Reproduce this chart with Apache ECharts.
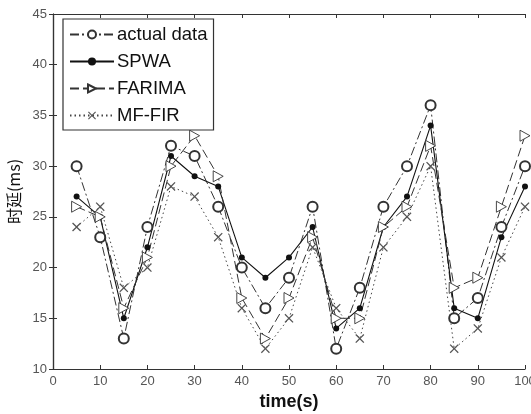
<!DOCTYPE html>
<html><head><meta charset="utf-8">
<script src="https://cdn.jsdelivr.net/npm/echarts@6/dist/echarts.min.js"></script>
<style>html,body{margin:0;padding:0;background:#fff}#c{width:531px;height:414px}</style>
</head><body><div id="c"></div>
<script>
const times = [5,10,15,20,25,30,35,40,45,50,55,60,65,70,75,80,85,90,95,100];
const actualData = [30,23,13,24,32,31,26,20,16,19,26,12,18,26,30,36,15,17,24,30];
const spwa = [27,25,15,22,31,29,28,21,19,21,24,14,16,24,27,34,16,15,23,28];
const farima = [26,25,16,21,30,33,29,17,13,17,23,15,15,24,26,32,18,19,26,33];
const mffir = [24,26,18,20,28,27,23,16,12,15,22,16,13,22,25,30,12,14,21,26];
const xTicks = [0,10,20,30,40,50,60,70,80,90,100];
const yTicks = [10,15,20,25,30,35,40,45];

const pair = a => times.map((t,i)=>[t,a[i]]);
const X = 'path://M0,1L1,0L5,4L9,0L10,1L6,5L10,9L9,10L5,6L1,10L0,9L4,5Z';
const chart = echarts.init(document.getElementById('c'));
const axisCommon = {
  axisLine:{lineStyle:{color:'#333',width:1.2}},
  axisTick:{inside:true,length:4,lineStyle:{color:'#333'}},
  splitLine:{show:false}
};
const txt = {color:'#555',fontFamily:'Liberation Sans, Arial',fontSize:13};
chart.setOption({
  animation:false,
  backgroundColor:'#fff',
  grid:{left:53,right:6,top:14,bottom:45,outerBoundsMode:'none',containLabel:false},
  legend:{
    left:63, top:19, orient:'vertical', itemGap:8, itemWidth:44, itemHeight:10,
    padding:[6,6,5,6], borderColor:'#333', borderWidth:1.2, backgroundColor:'#fff',
    textStyle:{fontFamily:'Liberation Sans, Arial',fontSize:18.5,color:'#111',padding:[0,0,0,-2]},
    data:['actual data','SPWA','FARIMA','MF-FIR']
  },
  xAxis:[
    Object.assign({type:'value',min:0,max:100,interval:10,position:'bottom',
      name:'time(s)',nameLocation:'middle',nameGap:24,
      nameTextStyle:{fontFamily:'Liberation Sans, Arial',fontSize:18,fontWeight:'bold',color:'#111'},
      axisLabel:Object.assign({margin:6,formatter:v=>xTicks.includes(v)?String(v):''},txt)},axisCommon),
    Object.assign({type:'value',min:0,max:100,interval:10,position:'top',axisLabel:{show:false}},axisCommon)
  ],
  yAxis:[
    Object.assign({type:'value',min:10,max:45,interval:5,position:'left',
      name:'时延(ms)',nameLocation:'middle',nameGap:30,nameRotate:90,
      nameTextStyle:{fontFamily:'Noto Sans CJK SC',fontSize:16,color:'#111'},
      axisLabel:Object.assign({margin:6,formatter:v=>yTicks.includes(v)?String(v):''},txt)},axisCommon),
    Object.assign({type:'value',min:10,max:45,interval:5,position:'right',axisLabel:{show:false}},axisCommon)
  ],
  series:[
    {name:'actual data',type:'line',data:pair(actualData),symbol:'emptyCircle',symbolSize:10,
      lineStyle:{color:'#333',width:1,type:[9,3,2,3]},itemStyle:{color:'#333',borderColor:'#333',borderWidth:0.9}},
    {name:'SPWA',type:'line',data:pair(spwa),symbol:'circle',symbolSize:6,
      lineStyle:{color:'#111',width:1.1,type:'solid'},itemStyle:{color:'#111'}},
    {name:'FARIMA',type:'line',data:pair(farima),symbol:'path://M0,0L10,5L0,10Z',symbolSize:[10,11],
      lineStyle:{color:'#333',width:1,type:[9,4]},itemStyle:{color:'#fff',borderColor:'#333',borderWidth:0.9}},
    {name:'MF-FIR',type:'line',data:pair(mffir),symbol:X,symbolSize:9,
      lineStyle:{color:'#444',width:1,type:[1.5,3]},itemStyle:{color:'#555'}}
  ]
});
</script></body></html>
